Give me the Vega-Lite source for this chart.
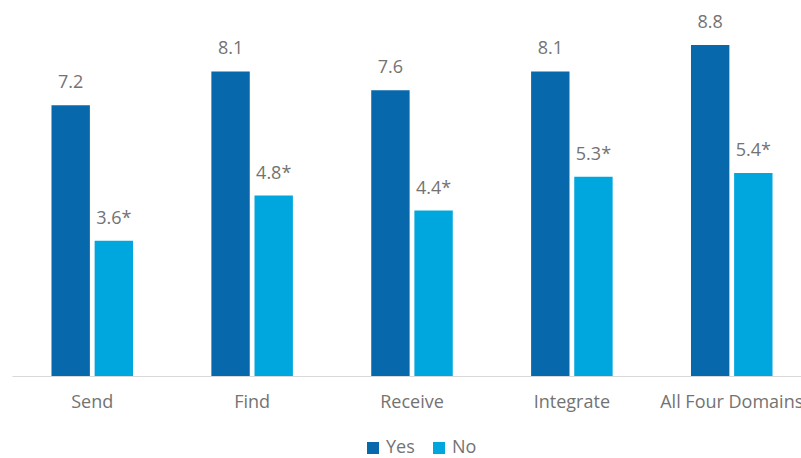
{
  "$schema": "https://vega.github.io/schema/vega-lite/v6.json",
  "autosize": {"type": "none"},
  "width": 800,
  "height": 376,
  "padding": {"left": 12, "top": 0, "right": 0, "bottom": 82},
  "background": "white",
  "config": {
    "view": {"stroke": null},
    "font": "Open Sans"
  },
  "data": {
    "values": [
      {"domain": "Send", "group": "Yes", "value": 7.2, "label": "7.2"},
      {"domain": "Send", "group": "No", "value": 3.6, "label": "3.6*"},
      {"domain": "Find", "group": "Yes", "value": 8.1, "label": "8.1"},
      {"domain": "Find", "group": "No", "value": 4.8, "label": "4.8*"},
      {"domain": "Receive", "group": "Yes", "value": 7.6, "label": "7.6"},
      {"domain": "Receive", "group": "No", "value": 4.4, "label": "4.4*"},
      {"domain": "Integrate", "group": "Yes", "value": 8.1, "label": "8.1"},
      {"domain": "Integrate", "group": "No", "value": 5.3, "label": "5.3*"},
      {"domain": "All Four Domains", "group": "Yes", "value": 8.8, "label": "8.8"},
      {"domain": "All Four Domains", "group": "No", "value": 5.4, "label": "5.4*"}
    ]
  },
  "encoding": {
    "x": {
      "field": "domain", "type": "nominal", "sort": null,
      "scale": {"paddingInner": 0.49, "paddingOuter": 0.247},
      "axis": {
        "title": null, "labelAngle": 0, "ticks": false,
        "domainColor": "#d9d9d9", "domainWidth": 1.2,
        "labelFontSize": 18, "labelColor": "#737373",
        "labelPadding": 17, "labelOverlap": false, "labelFont": "Open Sans",
        "labelBound": false, "labelLimit": 0
      }
    },
    "xOffset": {
      "field": "group", "type": "nominal", "sort": ["Yes", "No"],
      "scale": {"paddingInner": 0.11}
    },
    "y": {
      "field": "value", "type": "quantitative",
      "scale": {"domain": [0, 10], "nice": false},
      "axis": null
    }
  },
  "layer": [
    {
      "mark": {"type": "bar"},
      "encoding": {
        "color": {
          "field": "group", "type": "nominal", "sort": ["Yes", "No"],
          "scale": {"domain": ["Yes", "No"], "range": ["#0868ac", "#00a7df"]},
          "legend": {
            "title": null, "orient": "none", "direction": "horizontal",
            "legendX": 352, "legendY": 439,
            "symbolType": "square", "symbolSize": 144, "symbolStrokeWidth": 0,
            "labelFontSize": 18, "labelColor": "#737373", "labelFont": "Open Sans",
            "columnPadding": 15, "labelOffset": 4
          }
        }
      }
    },
    {
      "mark": {"type": "text", "baseline": "alphabetic", "dy": -17, "fontSize": 18, "color": "#737373", "font": "Open Sans"},
      "encoding": {"text": {"field": "label"}}
    }
  ]
}
